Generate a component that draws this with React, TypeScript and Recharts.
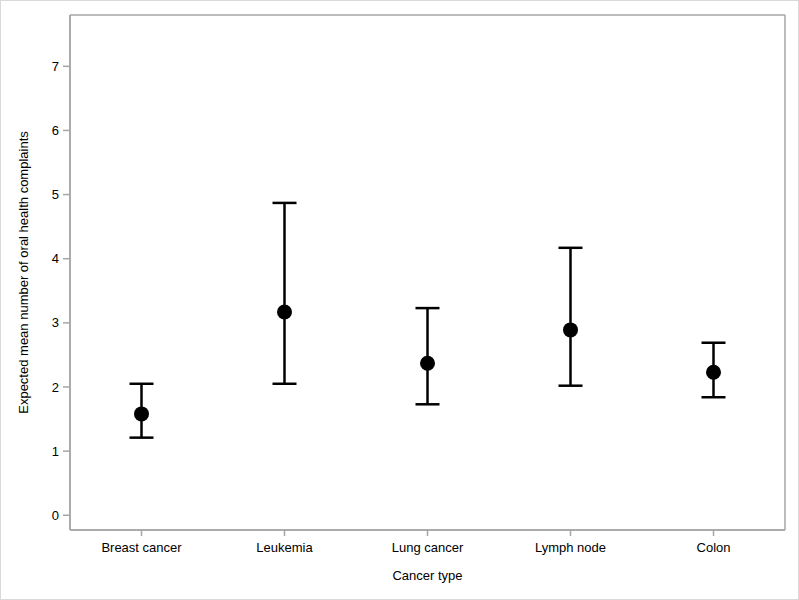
import React from 'react';
import { ComposedChart, Line, XAxis, YAxis, ErrorBar, CartesianGrid } from 'recharts';

const categories = ['Breast cancer', 'Leukemia', 'Lung cancer', 'Lymph node', 'Colon'];
const means = [1.58, 3.17, 2.37, 2.89, 2.23];
const lowers = [1.21, 2.05, 1.73, 2.02, 1.84];
const uppers = [2.05, 4.87, 3.23, 4.17, 2.69];
const yTicks = [0, 1, 2, 3, 4, 5, 6, 7];

const data = categories.map((c, i) => ({
  name: c,
  mean: means[i],
  err: [means[i] - lowers[i], uppers[i] - means[i]],
}));

const FONT = '"Liberation Sans", Arial, sans-serif';
const FRAME = '#a6a6a6';

const YLabel = (props: any) => {
  const vb = props.viewBox || {};
  const cx = 25;
  const cy = vb.y + vb.height / 2;
  return (
    <text x={cx} y={cy} transform={`rotate(-90, ${cx}, ${cy})`} textAnchor="middle" dominantBaseline="middle"
      fontFamily={FONT} fontSize={13} fill="#000">
      Expected mean number of oral health complaints
    </text>
  );
};

const vGen = (p: any) => {
  const o = p.offset;
  return [o.left, o.left + o.width];
};
const hGen = (p: any) => {
  const o = p.offset;
  return [o.top, o.top + o.height];
};

export default function App() {
  return (
    <div style={{ position: 'absolute', left: 0, top: 0, width: 799, height: 600, border: '1px solid #d9d9d9', boxSizing: 'border-box', background: '#fff' }}>
      <div style={{ position: 'absolute', left: -1, top: -1 }}>
        <ComposedChart width={799} height={600} data={data} margin={{ top: 15, right: 14, bottom: 20, left: 10 }}>
          <CartesianGrid stroke={FRAME} strokeWidth={1.5} verticalCoordinatesGenerator={vGen} horizontalCoordinatesGenerator={hGen} />
          <XAxis dataKey="name" type="category" scale="band" padding={{ left: 0, right: 0 }}
            stroke={FRAME} strokeWidth={1.5} tickSize={6} tickMargin={7}
            tick={{ fill: '#000', fontSize: 13, fontFamily: FONT }}
            tickLine={{ stroke: FRAME }} height={50}
            label={{ value: 'Cancer type', position: 'insideBottom', offset: 0, fill: '#000', fontSize: 13, fontFamily: FONT }} />
          <YAxis type="number" domain={[-0.23, 7.8]} allowDataOverflow ticks={yTicks} width={60}
            stroke={FRAME} strokeWidth={1.5} tickSize={7} tickLine={{ stroke: FRAME }}
            tick={{ fill: '#000', fontSize: 13, fontFamily: FONT, dx: -2 }}
            label={<YLabel />} />
          <Line dataKey="mean" stroke="none" isAnimationActive={false}
            dot={{ r: 7.5, fill: '#000', stroke: 'none' }} activeDot={false}>
            <ErrorBar dataKey="err" direction="y" width={12} stroke="#000" strokeWidth={2.5} isAnimationActive={false} />
          </Line>
        </ComposedChart>
      </div>
    </div>
  );
}
